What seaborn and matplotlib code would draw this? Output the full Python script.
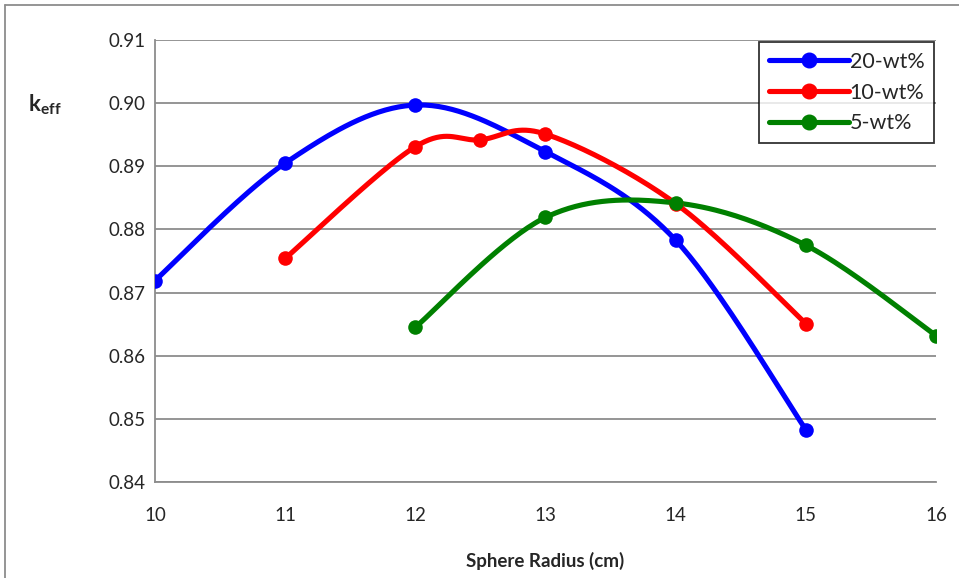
import numpy as np
import matplotlib
matplotlib.use("Agg")
import matplotlib.pyplot as plt
import seaborn as sns
from matplotlib.lines import Line2D

# values
r_20 = [10, 11, 12, 13, 14, 15]
k_20 = [0.8719, 0.8905, 0.8997, 0.8923, 0.8783, 0.8483]
r_10 = [11, 12, 12.5, 13, 14, 15]
k_10 = [0.8754, 0.8931, 0.8942, 0.8951, 0.8841, 0.8651]
r_5 = [12, 13, 14, 15, 16]
k_5 = [0.8645, 0.8819, 0.8842, 0.8775, 0.8632]
labels = ["20-wt%", "10-wt%", "5-wt%"]
colors = ["#0000FF", "#FF0000", "#008000"]

sns.set_style("white")
plt.rcParams['font.family'] = ['Lato', 'DejaVu Sans']
plt.rcParams['mathtext.fontset'] = 'custom'
plt.rcParams['mathtext.bf'] = 'Lato:bold'
plt.rcParams['mathtext.rm'] = 'Lato'


def smooth(x, y, n=40):
    # excel-style smoothed line (cubic bezier between the points)
    p = np.column_stack([x, y]).astype(float)
    out = [p[:1]]
    for i in range(len(p) - 1):
        p0 = p[i - 1] if i > 0 else p[i]
        p3 = p[i + 2] if i + 2 < len(p) else p[i + 1]
        c1 = p[i] + (p[i + 1] - p0) / 6
        c2 = p[i + 1] - (p3 - p[i]) / 6
        t = np.linspace(0, 1, n)[1:, None]
        seg = ((1 - t) ** 3 * p[i] + 3 * (1 - t) ** 2 * t * c1
               + 3 * (1 - t) * t ** 2 * c2 + t ** 3 * p[i + 1])
        out.append(seg)
    s = np.vstack(out)
    return s[:, 0], s[:, 1]


fig = plt.figure(figsize=(9.59, 5.78), dpi=100)
ax = fig.add_axes([0.1616, 0.1661, 0.8144, 0.7647])

for (xs, ys), lab, c in zip([(r_20, k_20), (r_10, k_10), (r_5, k_5)], labels, colors):
    sx, sy = smooth(xs, ys)
    sns.lineplot(x=sx, y=sy, sort=False, color=c, lw=3.7, ax=ax, zorder=3)
    sns.scatterplot(x=xs, y=ys, color=c, s=110, edgecolor=c, linewidth=0, ax=ax, zorder=4)

ax.set_xlim(10, 16)
ax.set_ylim(0.84, 0.91)
ax.set_xticks(np.arange(10, 17, 1))
ax.set_yticks(np.arange(0.84, 0.911, 0.01))
ax.set_yticklabels([f"{v:.2f}" for v in np.arange(0.84, 0.911, 0.01)])
ax.yaxis.grid(True, color="#8c8c8c", lw=1.3)
ax.set_axisbelow(True)
for s in ["top", "right"]:
    ax.spines[s].set_visible(False)
for s in ["left", "bottom"]:
    ax.spines[s].set_color("#8c8c8c")
    ax.spines[s].set_linewidth(1.3)
ax.tick_params(axis="both", direction="out", length=4, width=1.3, color="#8c8c8c",
               labelsize=13.5)
ax.tick_params(axis="y", pad=3)
ax.tick_params(axis="x", pad=14)

ax.set_xlabel("Sphere Radius (cm)", fontsize=13.5, fontweight="bold", labelpad=20)
fig.text(0.029, 0.818, r"$\mathbf{k}_{\mathbf{eff}}$", fontsize=16, va="center")

handles = [Line2D([], [], color=c, lw=3.7, marker="o", markersize=10.5) for c in colors]
leg = ax.legend(handles, labels, loc="upper right", bbox_to_anchor=(0.9975, 0.995),
                fontsize=15.5, frameon=True, fancybox=False, handlelength=3.7,
                handletextpad=0.05, borderpad=0.45, labelspacing=0.5, borderaxespad=0)
leg.get_frame().set_edgecolor("black")
leg.get_frame().set_linewidth(1.3)

# outer chart frame
fig.add_artist(Line2D([5 / 959, 5 / 959], [0, 1 - 5 / 578], color="#8c8c8c", lw=1.3,
                      transform=fig.transFigure))
fig.add_artist(Line2D([5 / 959, 1], [1 - 5 / 578, 1 - 5 / 578], color="#8c8c8c", lw=1.3,
                      transform=fig.transFigure))

fig.savefig("out.png", dpi=100)
